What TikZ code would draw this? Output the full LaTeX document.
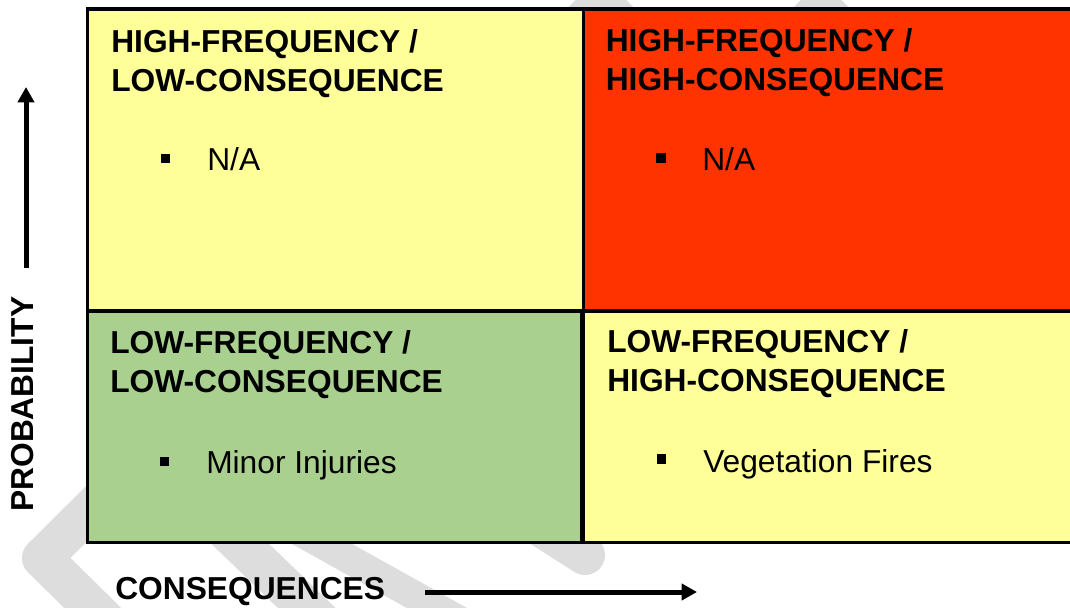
\documentclass[tikz,border=0pt]{standalone}
\usepackage{fontspec}
\setmainfont{Liberation Sans}
\usetikzlibrary{arrows.meta}
\definecolor{quadyellow}{HTML}{FFFF99}
\definecolor{quadred}{HTML}{FF3300}
\definecolor{quadgreen}{HTML}{A9D08E}
\definecolor{wmgray}{HTML}{DDDDDD}

\begin{document}
\begin{tikzpicture}[x=0.75pt, y=-0.75pt,
	every node/.style={inner sep=0pt},
	quad/.style={draw=black, line width=2.6pt},
	head/.style={anchor=north west, align=left, font=\bfseries\fontsize{23.8}{29.25}\selectfont},
	item/.style={anchor=base west, font=\fontsize{23.8}{29.25}\selectfont},
	bul/.style={fill=black, minimum size=7pt},
	axislabel/.style={anchor=base west, font=\bfseries\fontsize{23.8}{29.25}\selectfont},
	wm/.style={wmgray, line width=30pt, line cap=round, line join=round},
	>={Triangle[length=11.5pt, width=12pt]}]
	\useasboundingbox (0,0) rectangle (1070,607);
	\clip (0,0) rectangle (1070,607);
	% watermark
	\draw[wm] (110,625) -- (42,558) -- (601,3) -- (700,102);
	\draw[wm] (720,110) -- (821,8) -- (920,107);
	\draw[wm] (150,457) -- (340,640);
	\draw[wm, line width=22pt] (200,476) -- (480,632);
	\draw[wm] (300,373) -- (585,555);
	% quadrants
	\draw[quad, fill=quadyellow] (87.5,9) rectangle (583.5,310.5);
	\draw[quad, fill=quadred] (583.5,9) rectangle (1085,310.5);
	\draw[quad, fill=quadgreen] (87.5,311) rectangle (582,542.5);
	\draw[quad, fill=quadyellow] (583.5,311) rectangle (1085,542.5);
	\node[head] (hflc) at (111,29) {HIGH-FREQUENCY /\\LOW-CONSEQUENCE};
	\node[head] (hfhc) at (605.5,28) {HIGH-FREQUENCY /\\HIGH-CONSEQUENCE};
	\node[head] (lflc) at (110,330) {LOW-FREQUENCY /\\LOW-CONSEQUENCE};
	\node[head] (lfhc) at (607,329) {LOW-FREQUENCY /\\HIGH-CONSEQUENCE};
	\node[bul] (hflcbul) at (165.5,158.5) {};
	\node[bul] (hfhcbul) at (661,158) {};
	\node[bul] (lflcbul) at (164.5,461.5) {};
	\node[bul] (lfhcbul) at (661.5,459) {};
	\node[item] (hflcitem) at (207,170) {N/A};
	\node[item] (hfhcitem) at (702,170) {N/A};
	\node[item] (lflcitem) at (206,473) {Minor Injuries};
	\node[item] (lfhcitem) at (703,472) {Vegetation Fires};
	% axes
	\node[axislabel, rotate=90] (prob) at (33.5,512) {PROBABILITY};
	\node[axislabel] (cons) at (115,599.5) {CONSEQUENCES};
	\coordinate (probfrom) at (26,268);
	\coordinate (probto) at (26,87);
	\coordinate (consfrom) at (425,592);
	\coordinate (consto) at (697,592);
	\draw[->, line width=3.75pt] (probfrom) -- (probto);
	\draw[->, line width=3.75pt] (consfrom) -- (consto);
\end{tikzpicture}
\end{document}
